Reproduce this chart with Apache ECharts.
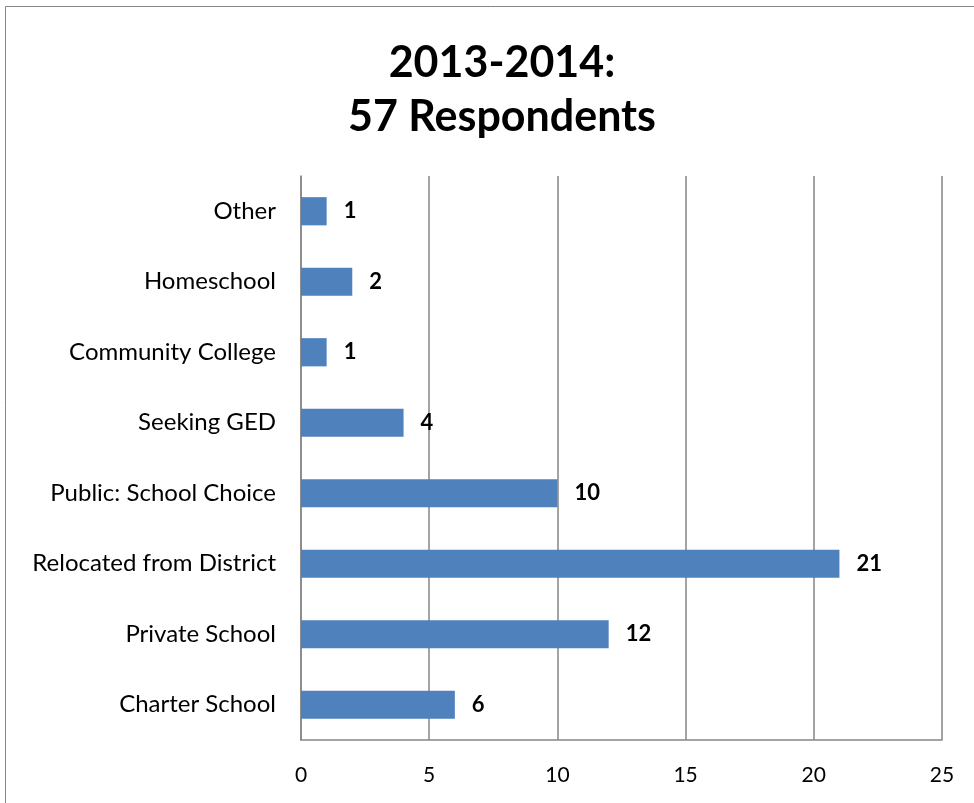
<!DOCTYPE html>
<html><head><meta charset="utf-8">
<script src="https://cdn.jsdelivr.net/npm/echarts@6/dist/echarts.min.js"></script>
<style>html,body{margin:0;padding:0;background:#fff}#c{width:974px;height:803px}</style>
</head><body><div id="c"></div>
<script>
const categories = ['Charter School','Private School','Relocated from District','Public: School Choice','Seeking GED','Community College','Homeschool','Other'];
const values = [6, 12, 21, 10, 4, 1, 2, 1];
const xTicks = [0, 5, 10, 15, 20, 25];
const titleText = '2013-2014:\n57 Respondents';

const FONT = 'Lato, "Open Sans", sans-serif';
const chart = echarts.init(document.getElementById('c'), null, {renderer:'canvas'});
chart.setOption({
  animation:false,
  backgroundColor:'#fff',
  graphic:[{type:'rect', shape:{x:5.5,y:6.5,width:1000,height:900}, style:{fill:'none',stroke:'#878787',lineWidth:1}, silent:true, z:-1}],
  title:{text:titleText, left:497, textAlign:'center', top:31,
    textStyle:{fontFamily:FONT, fontSize:43, fontWeight:'bold', color:'#000', lineHeight:54}},
  grid:{left:301, right:32, top:176, bottom:63, containLabel:false},
  xAxis:{type:'value', min:xTicks[0], max:xTicks[xTicks.length-1], interval:5,
    axisLine:{show:true, lineStyle:{color:'#868686', width:1.5}},
    axisTick:{show:false},
    axisLabel:{fontFamily:FONT, fontSize:21, color:'#000', margin:25, formatter:v=>xTicks.includes(v)?String(v):''},
    splitLine:{show:true, lineStyle:{color:'#868686', width:1.5}}},
  yAxis:{type:'category', data:categories,
    axisLine:{show:true, lineStyle:{color:'#868686', width:1.5}},
    axisTick:{show:false},
    axisLabel:{fontFamily:FONT, fontSize:24, color:'#000', margin:25}},
  series:[{type:'bar', data:values, barWidth:'40%',
    itemStyle:{color:'#4f81bd'},
    label:{show:true, position:'right', distance:17, fontFamily:FONT, fontSize:22, fontWeight:'bold', color:'#000'}}]
});
</script></body></html>
